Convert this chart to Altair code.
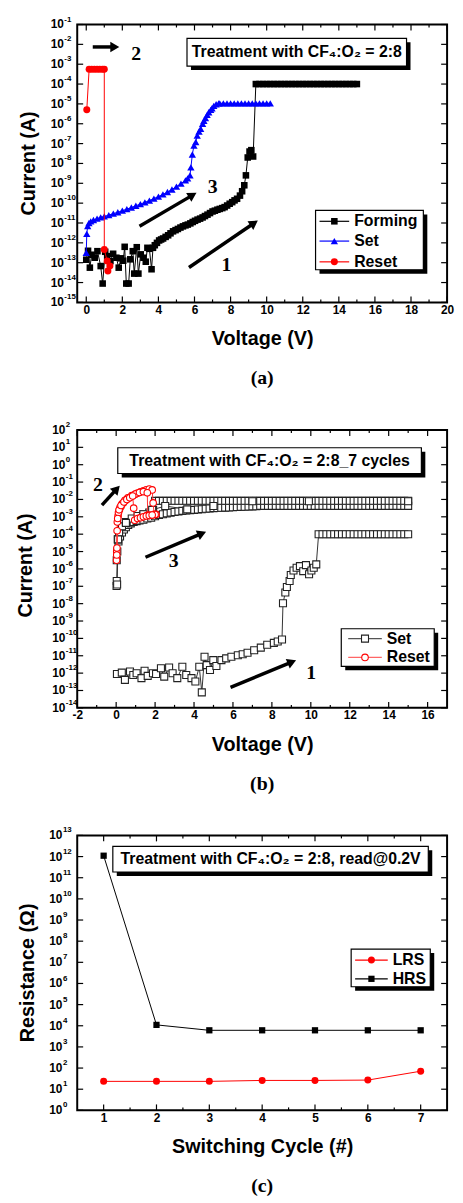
import math
import altair as alt
import pandas as pd

# ---------------- data ----------------
# measurement sweep voltages (V) used for the compliance plateaus
SWEEP_V = [0.0, 0.2, 0.4, 0.6, 0.8, 1.0, 1.2, 1.4, 1.6, 1.8, 2.0, 2.2, 2.4, 2.6, 2.8,
           3.0, 3.2, 3.4, 3.6, 3.8, 4.0, 4.2, 4.4, 4.6, 4.8, 5.0, 5.2, 5.4, 5.6, 5.8,
           6.0, 6.2, 6.4, 6.6, 6.8, 7.0, 7.2, 7.4, 7.6, 7.8, 8.0, 8.2, 8.4, 8.6, 8.8,
           9.0, 9.2, 9.4, 9.6, 9.8, 10.0, 10.2, 10.4, 10.6, 10.8, 11.0, 11.2, 11.4,
           11.6, 11.8, 12.0, 12.2, 12.4, 12.6, 12.8, 13.0, 13.2, 13.4, 13.6, 13.8,
           14.0, 14.2, 14.4, 14.6, 14.8, 15.0]

# Panel (a): log10 of current (A)
FORM_V = [0.00, 0.10, 0.20, 0.30, 0.47, 0.62, 0.80, 0.91, 1.05, 1.16, 1.34, 1.49, 1.67, 1.80,
          1.93, 2.05, 2.13, 2.22, 2.35, 2.44, 2.58, 2.66, 2.80, 2.89, 3.02, 3.17, 3.30, 3.39,
          3.50, 3.62, 3.70, 3.80, 3.92, 4.04, 4.15, 4.26, 4.40, 4.54, 4.67, 4.81, 4.95, 5.08,
          5.22, 5.36, 5.50, 5.63, 5.77, 5.90, 6.03, 6.17, 6.31, 6.45, 6.58, 6.72, 6.86, 7.00,
          7.13, 7.27, 7.40, 7.54, 7.67, 7.81, 7.95, 8.09, 8.22, 8.36, 8.52, 8.64, 8.76, 8.85,
          8.95, 9.05, 9.15, 9.25]
FORM_LOGI = [-12.85, -12.40, -13.25, -12.60, -12.75, -12.42, -13.17, -14.05, -12.45, -12.67,
             -12.92, -12.55, -12.75, -13.25, -12.78, -12.90, -12.20, -14.05, -14.05, -12.83,
             -12.42, -13.55, -12.22, -13.55, -12.58, -12.75, -12.95, -12.25, -12.30, -13.33,
             -12.25, -12.12, -12.00, -11.88, -11.83, -11.78, -11.70, -11.62, -11.52, -11.42,
             -11.36, -11.30, -11.23, -11.17, -11.12, -11.08, -11.02, -10.95, -10.89, -10.83,
             -10.78, -10.72, -10.65, -10.58, -10.50, -10.42, -10.38, -10.33, -10.29, -10.25,
             -10.20, -10.12, -10.03, -9.95, -9.86, -9.78, -9.62, -9.40, -9.10, -8.60,
             -7.70, -7.40, -7.33, -7.65]
FORM_CC_LOGI = -4.0          # forming compliance, 9.3 V .. 15 V
FORM_CC_RANGE = (9.3, 15.0)

SET_A_V = [0.00, 0.03, 0.08, 0.15, 0.25, 0.40, 0.60, 0.80, 1.00, 1.25, 1.50, 1.75, 2.00, 2.25,
           2.50, 2.75, 3.00, 3.25, 3.50, 3.75, 4.00, 4.25, 4.50, 4.75, 5.00, 5.25, 5.50, 5.62,
           5.75, 5.80, 5.88, 5.97, 6.07, 6.15, 6.25, 6.34, 6.45, 6.52, 6.61, 6.70, 6.79, 6.90,
           6.97, 7.07, 7.20, 7.34]
SET_A_LOGI = [-12.50, -11.55, -11.15, -11.00, -10.92, -10.85, -10.78, -10.72, -10.67, -10.60,
              -10.53, -10.46, -10.38, -10.30, -10.22, -10.13, -10.05, -9.96, -9.87, -9.77,
              -9.67, -9.56, -9.44, -9.31, -9.17, -9.02, -8.85, -8.75, -8.60, -8.20, -7.55,
              -7.10, -6.92, -6.60, -6.40, -6.25, -6.00, -5.85, -5.72, -5.55, -5.42, -5.30,
              -5.22, -5.10, -5.02, -4.97]
SET_A_CC_LOGI = -4.97
SET_A_CC_RANGE = (7.4, 10.2)

RESET_A_V = [0.03, 0.16, 0.30, 0.45, 0.60, 0.75, 0.90, 1.00, 1.00, 1.16, 1.31, 1.20]
RESET_A_LOGI = [-5.30, -3.25, -3.25, -3.25, -3.25, -3.25, -3.25, -3.25, -12.33, -12.92, -13.17, -13.42]

# Panel (b)
SET_B1_V = [0.04, 0.29, 0.45, 0.71, 0.88, 1.05, 1.30, 1.46, 1.62, 1.89, 2.05, 2.30, 2.47, 2.72,
            2.90, 3.14, 3.40, 3.60, 3.87, 4.07, 4.27, 4.40, 4.54, 4.65, 4.82, 4.99, 5.15, 5.41,
            5.65, 5.92, 6.25, 6.50, 6.75, 7.09, 7.43, 7.76, 8.10, 8.30, 8.52, 8.57, 8.69, 8.77,
            8.91, 8.97, 9.11, 9.27, 9.44, 9.61, 9.75, 9.91, 10.03, 10.15, 10.28]
SET_B1_LOGI = [-12.05, -11.97, -12.39, -11.91, -12.11, -12.01, -12.29, -11.86, -12.16, -12.01,
               -12.05, -11.72, -12.20, -11.68, -12.01, -12.29, -11.63, -12.11, -12.29, -12.48,
               -11.63, -13.11, -11.06, -11.54, -11.82, -11.25, -11.59, -11.25, -11.15, -11.06,
               -10.97, -10.91, -10.83, -10.68, -10.53, -10.37, -10.26, -10.18, -10.06, -7.98,
               -7.36, -7.04, -6.70, -6.35, -6.09, -5.93, -5.84, -6.13, -5.78, -6.31, -6.09,
               -5.93, -5.74]
SET_B1_CC_LOGI = -4.0
SET_B1_CC_RANGE = (10.4, 15.0)

SET_B2_V = [0.02, 0.03, 0.06, 0.12, 0.20, 0.30, 0.40, 0.50, 0.62, 0.75, 0.90, 1.05, 1.20, 1.40,
            1.60, 1.80, 2.00, 2.20, 2.40, 2.60, 2.80, 3.00, 3.20, 3.40, 3.60, 3.80, 4.00, 4.20,
            4.40, 4.60, 4.80, 5.00, 5.20, 5.40, 5.60, 5.80, 6.00, 6.20, 6.40, 6.60, 6.80, 7.00,
            7.20]
SET_B2_LOGI = [-6.98, -6.70, -5.00, -4.42, -4.13, -3.90, -3.73, -3.60, -3.47, -3.38, -3.30,
               -3.25, -3.21, -3.17, -3.10, -3.05, -2.97, -2.90, -2.85, -2.80, -2.76, -2.72,
               -2.69, -2.66, -2.64, -2.62, -2.60, -2.58, -2.56, -2.54, -2.52, -2.50, -2.49,
               -2.48, -2.47, -2.46, -2.45, -2.44, -2.43, -2.42, -2.41, -2.40, -2.39]
SET_B2_CC_LOGI = -2.37
SET_B2_CC_RANGE = (7.4, 15.0)

SET_B3_V = [0.03, 0.08, 0.15, 0.30, 0.50, 0.80, 1.10, 1.40, 1.70, 1.90, 2.00]
SET_B3_LOGI = [-5.50, -4.30, -3.90, -3.55, -3.30, -3.10, -2.95, -2.85, -2.75, -2.60, -2.08]
SET_B3_CC_LOGI = -2.08
SET_B3_CC_RANGE = (2.2, 15.0)

SET_B4_V = [0.05, 0.10, 0.50, 1.40, 1.85, 2.52, 3.65, 5.00, 7.00, 9.90, 15.00]
SET_B4_LOGI = [-6.90, -4.30, -3.35, -2.85, -2.60, -2.38, -2.57, -2.38, -2.10, -2.10, -2.10]

RESET_B1_V = [0.02, 0.03, 0.05, 0.10, 0.17, 0.25, 0.37, 0.50, 0.65, 0.80, 0.96, 1.10, 1.25,
              1.40, 1.55, 1.70, 1.85, 1.90, 1.95, 2.05]
RESET_B1_LOGI = [-5.50, -5.00, -3.80, -2.95, -2.60, -2.40, -2.20, -2.05, -1.92, -1.82, -1.72,
                 -1.64, -1.56, -1.50, -1.44, -1.40, -1.45, -2.20, -2.85, -2.86]
RESET_B2_V = [0.03, 0.06, 0.12, 0.20, 0.30, 0.45, 0.60, 0.80, 1.00, 1.20, 1.40, 1.60, 1.62,
              1.70, 1.85, 2.00]
RESET_B2_LOGI = [-5.20, -3.30, -2.75, -2.45, -2.25, -2.05, -1.90, -1.78, -1.68, -1.60, -1.55,
                 -1.62, -2.90, -2.93, -2.90, -2.87]
RESET_B3_V = [0.04, 0.08, 0.15, 0.25, 0.40, 0.55, 0.70, 0.85, 0.90, 0.95, 1.10, 1.25, 1.40,
              1.55, 1.70, 1.85]
RESET_B3_LOGI = [-4.80, -3.10, -2.60, -2.35, -2.15, -2.00, -1.90, -1.80, -2.50, -3.20, -3.10,
                 -3.05, -3.00, -2.95, -2.92, -2.90]

# Panel (c): resistance (Ohm)
CYCLES = [1, 2, 3, 4, 5, 6, 7]
HRS = [1.1e12, 1.1e4, 6.1e3, 6.1e3, 6.1e3, 6.1e3, 6.1e3]
LRS = [23.5, 23.5, 23.5, 26.0, 26.0, 27.0, 71.0]

# tick labels
XTICKS_A = [0, 2, 4, 6, 8, 10, 12, 14, 16, 18, 20]
XMINOR_A = [1, 3, 5, 7, 9, 11, 13, 15, 17, 19]
YEXP_A = [-1, -2, -3, -4, -5, -6, -7, -8, -9, -10, -11, -12, -13, -14, -15]
XTICKS_B = [-2, 0, 2, 4, 6, 8, 10, 12, 14, 16]
XMINOR_B = [-1, 1, 3, 5, 7, 9, 11, 13, 15]
YEXP_B = [2, 1, 0, -1, -2, -3, -4, -5, -6, -7, -8, -9, -10, -11, -12, -13, -14]
XTICKS_C = [1, 2, 3, 4, 5, 6, 7]
XMINOR_C = [1.5, 2.5, 3.5, 4.5, 5.5, 6.5]
YEXP_C = [13, 12, 11, 10, 9, 8, 7, 6, 5, 4, 3, 2, 1, 0]

# ---------------- styling / helpers ----------------
FONT = "Liberation Sans"
SERIF = "Liberation Serif"
W = 374
ONE = pd.DataFrame({"k": [0]})


def plateau(rng, logi):
    vs = [v for v in SWEEP_V if rng[0] <= v <= rng[1]]
    return vs, [logi] * len(vs)


def curve_df(parts):
    rows = []
    for cyc, (vs, ls) in enumerate(parts):
        for i, (v, l) in enumerate(zip(vs, ls)):
            rows.append({"V": v, "I": 10.0 ** l, "cyc": cyc, "ord": i})
    return pd.DataFrame(rows)


def series(df, xs, ys, xax, color, shape, size, open_marker=False, line_color=None,
           line_w=1.0, xf="V", yf="I"):
    enc = dict(x=alt.X(f"{xf}:Q", scale=xs, axis=xax),
               y=alt.Y(f"{yf}:Q", scale=ys, axis=None))
    line = alt.Chart(df).mark_line(color=line_color or color, strokeWidth=line_w).encode(
        detail="cyc:N", order="ord:Q", **enc)
    if open_marker:
        pt = alt.Chart(df).mark_point(shape=shape, size=size, filled=True, fill="white",
                                      stroke=color, strokeWidth=1.1, opacity=1)
    else:
        pt = alt.Chart(df).mark_point(shape=shape, size=size, filled=True, color=color,
                                      opacity=1, strokeWidth=0)
    return [line, pt.encode(**enc)]


def frame_ticks(xs, ys, H, xmaj, xmin, yexp, xax):
    dmaj = pd.DataFrame({"t": xmaj})
    dmin = pd.DataFrame({"t": xmin})
    dy = pd.DataFrame({"t": [10.0 ** e for e in yexp]})
    out = []
    for d, y0, y1 in ((dmaj, H - 6, H), (dmaj, 0, 6), (dmin, H - 3, H), (dmin, 0, 3)):
        out.append(alt.Chart(d).mark_rule(color="black", strokeWidth=1.2).encode(
            x=alt.X("t:Q", scale=xs, axis=xax), y=alt.value(y0), y2=alt.value(y1)))
    for x0, x1 in ((0, 6), (W - 6, W)):
        out.append(alt.Chart(dy).mark_rule(color="black", strokeWidth=1.2).encode(
            y=alt.Y("t:Q", scale=ys, axis=None), x=alt.value(x0), x2=alt.value(x1)))
    return out


def ylabels(ys, yexp, xr):
    d = pd.DataFrame({"t": [10.0 ** e for e in yexp], "b": ["10"] * len(yexp),
                      "e": [str(e) for e in yexp]})
    base = alt.Chart(d).mark_text(align="right", baseline="middle", font=FONT,
                                  fontWeight="bold", fontSize=12, color="black").encode(
        y=alt.Y("t:Q", scale=ys, axis=None), x=alt.value(xr), text="b:N")
    ex = alt.Chart(d).mark_text(align="left", baseline="middle", font=FONT,
                                fontWeight="bold", fontSize=8, dy=-5, color="black").encode(
        y=alt.Y("t:Q", scale=ys, axis=None), x=alt.value(xr + 0.5), text="e:N")
    return [base, ex]


def text(x, y, s, size=16, font=FONT, align="center", angle=0):
    kw = dict(align=align, baseline="middle", font=font, fontWeight="bold",
              fontSize=size, color="black")
    if angle:
        kw["angle"] = angle
    return alt.Chart(ONE).mark_text(**kw).encode(x=alt.value(x), y=alt.value(y),
                                                 text=alt.value(s))


def box(x0, y0, x1, y1):
    sh = alt.Chart(ONE).mark_rect(fill="black").encode(
        x=alt.value(x0 + 4), x2=alt.value(x1 + 4), y=alt.value(y0 + 4), y2=alt.value(y1 + 4))
    bx = alt.Chart(ONE).mark_rect(fill="white", stroke="black", strokeWidth=1.2).encode(
        x=alt.value(x0), x2=alt.value(x1), y=alt.value(y0), y2=alt.value(y1))
    return [sh, bx]


def legend(bx, rows, lx0, lx1, tx):
    out = box(*bx)
    for lab, y, color, shape, size, open_m, lcol in rows:
        out.append(alt.Chart(ONE).mark_rule(color=lcol, strokeWidth=1.2).encode(
            x=alt.value(lx0), x2=alt.value(lx1), y=alt.value(y)))
        if open_m:
            m = alt.Chart(ONE).mark_point(shape=shape, size=size, filled=True, fill="white",
                                          stroke=color, strokeWidth=1.1, opacity=1)
        else:
            m = alt.Chart(ONE).mark_point(shape=shape, size=size, filled=True, color=color,
                                          opacity=1, strokeWidth=0)
        out.append(m.encode(x=alt.value((lx0 + lx1) / 2), y=alt.value(y)))
        out.append(text(tx, y, lab, size=16, align="left"))
    return out


def arrow(x0, y0, x1, y1, label, lx, ly):
    L = math.hypot(x1 - x0, y1 - y0)
    ux, uy = (x1 - x0) / L, (y1 - y0) / L
    hx, hy = x1 - ux * 5, y1 - uy * 5
    ang = math.degrees(math.atan2(x1 - x0, -(y1 - y0))) % 360
    shaft = alt.Chart(ONE).mark_rule(color="black", strokeWidth=3.5).encode(
        x=alt.value(x0), y=alt.value(y0), x2=alt.value(hx - ux * 3), y2=alt.value(hy - uy * 3))
    head = alt.Chart(ONE).mark_point(shape="triangle-up", filled=True, color="black",
                                     opacity=1, size=110, angle=ang, strokeWidth=0).encode(
        x=alt.value(hx), y=alt.value(hy))
    return [shaft, head, text(lx, ly, label, size=20, font=SERIF)]


def xaxis(values, title):
    return alt.Axis(values=values, title=title, labelFlush=False, labelOverlap=False,
                    labelPadding=2, titlePadding=14, ticks=False, domain=False, grid=False,
                    labelExpr="replace(datum.label, '\u2212', '-')")


TITLE = "Treatment with CF\u2084:O\u2082 = 2:8"

# ---------------- panel (a) ----------------
HA = 281
xs_a = alt.Scale(domain=[-0.5, 20], nice=False, zero=False)
ys_a = alt.Scale(type="log", domain=[1e-15, 1e-1], nice=False)
xa = xaxis(XTICKS_A, "Voltage (V)")
fv, fl = plateau(FORM_CC_RANGE, FORM_CC_LOGI)
sv, sl = plateau(SET_A_CC_RANGE, SET_A_CC_LOGI)
df_form = curve_df([(FORM_V + fv, FORM_LOGI + fl)])
df_seta = curve_df([(SET_A_V + sv, SET_A_LOGI + sl)])
df_reseta = curve_df([(RESET_A_V, RESET_A_LOGI)])

layers_a = []
layers_a += frame_ticks(xs_a, ys_a, HA, XTICKS_A, XMINOR_A, YEXP_A, xa)
layers_a += series(df_form, xs_a, ys_a, xa, "black", "square", 44)
layers_a += series(df_seta, xs_a, ys_a, xa, "#0000ff", "triangle-up", 55)
layers_a += series(df_reseta, xs_a, ys_a, xa, "#ff0000", "circle", 50)
layers_a += ylabels(ys_a, YEXP_A, -13.5)
layers_a.append(text(-49, HA / 2, "Current (A)", size=20, angle=270))
layers_a += box(111, 14, 333, 42)
layers_a.append(text(222, 28, TITLE, size=16))
layers_a += legend((241, 188, 350, 248),
                   [("Forming", 199, "black", "square", 44, False, "black"),
                    ("Set", 219, "#0000ff", "triangle-up", 55, False, "#0000ff"),
                    ("Reset", 240, "#ff0000", "circle", 50, False, "#ff0000")],
                   245, 275, 280)
layers_a += arrow(15.7, 22.7, 43, 22.7, "2", 59.5, 30)
layers_a += arrow(63, 204, 121, 170, "3", 137, 164)
layers_a += arrow(113, 245.7, 183, 198, "1", 151, 243)
layers_a.append(text(W / 2, HA + 77, "(a)", size=20, font=SERIF))
pa = alt.layer(*layers_a).properties(width=W, height=HA)

# ---------------- panel (b) ----------------
HB = 281
xs_b = alt.Scale(domain=[-2, 17], nice=False, zero=False)
ys_b = alt.Scale(type="log", domain=[1e-14, 1e2], nice=False)
xb = xaxis(XTICKS_B, "Voltage (V)")
p1 = plateau(SET_B1_CC_RANGE, SET_B1_CC_LOGI)
p2 = plateau(SET_B2_CC_RANGE, SET_B2_CC_LOGI)
p3 = plateau(SET_B3_CC_RANGE, SET_B3_CC_LOGI)
df_setb = curve_df([(SET_B1_V + p1[0], SET_B1_LOGI + p1[1]),
                    (SET_B2_V + p2[0], SET_B2_LOGI + p2[1]),
                    (SET_B3_V + p3[0], SET_B3_LOGI + p3[1]),
                    (SET_B4_V, SET_B4_LOGI)])
df_resetb = curve_df([(RESET_B1_V, RESET_B1_LOGI), (RESET_B2_V, RESET_B2_LOGI),
                      (RESET_B3_V, RESET_B3_LOGI)])
layers_b = []
layers_b += frame_ticks(xs_b, ys_b, HB, XTICKS_B, XMINOR_B, YEXP_B, xb)
layers_b += series(df_setb, xs_b, ys_b, xb, "#222222", "square", 50, open_marker=True,
                   line_color="#333333")
layers_b += series(df_resetb, xs_b, ys_b, xb, "#ff0000", "circle", 44, open_marker=True,
                   line_color="#ff3333")
layers_b += ylabels(ys_b, YEXP_B, -12)
layers_b.append(text(-51.5, 137, "Current (A)", size=20, angle=270))
layers_b += box(41, 18, 348, 44)
layers_b.append(text(194.5, 31, TITLE + "_7 cycles", size=16))
layers_b += legend((267, 201, 361, 239),
                   [("Set", 211, "#222222", "square", 50, True, "#555555"),
                    ("Reset", 230, "#ff0000", "circle", 44, True, "#ff6666")],
                   274, 308, 313)
layers_b += arrow(25, 76, 43.3, 56, "2", 21, 55.5)
layers_b += arrow(69, 128.7, 130.7, 102.7, "3", 97.5, 132.7)
layers_b += arrow(155, 260.3, 221.7, 232.7, "1", 236.7, 246)
layers_b.append(text(W / 2, HB + 77, "(b)", size=20, font=SERIF))
pb = alt.layer(*layers_b).properties(width=W, height=HB)

# ---------------- panel (c) ----------------
HC = 278
xs_c = alt.Scale(domain=[0.5, 7.5], nice=False, zero=False)
ys_c = alt.Scale(type="log", domain=[1e0, 1e13], nice=False)
xc = xaxis(XTICKS_C, "Switching Cycle (#)")
df_hrs = pd.DataFrame({"C": CYCLES, "R": HRS, "cyc": 0, "ord": list(range(len(CYCLES)))})
df_lrs = pd.DataFrame({"C": CYCLES, "R": LRS, "cyc": 0, "ord": list(range(len(CYCLES)))})
layers_c = []
layers_c += frame_ticks(xs_c, ys_c, HC, XTICKS_C, XMINOR_C, YEXP_C, xc)
layers_c += series(df_hrs, xs_c, ys_c, xc, "black", "square", 40, xf="C", yf="R")
layers_c += series(df_lrs, xs_c, ys_c, xc, "#ff0000", "circle", 50, xf="C", yf="R")
layers_c += ylabels(ys_c, YEXP_C, -15)
layers_c.append(text(-50, 139, "Resistance (\u03a9)", size=20, angle=270))
layers_c += box(36, 11, 355, 37)
layers_c.append(text(195.5, 24, TITLE + ", read@0.2V", size=16))
layers_c += legend((277, 115, 357, 153),
                   [("LRS", 126, "#ff0000", "circle", 50, False, "#ff0000"),
                    ("HRS", 145, "black", "square", 40, False, "black")],
                   281, 314, 319)
layers_c.append(text(W / 2, HC + 77, "(c)", size=20, font=SERIF))
pc = alt.layer(*layers_c).properties(width=W, height=HC)

chart = (
    alt.vconcat(pa, pb, pc, spacing=31)
    .properties(padding={"left": 7, "top": 0, "right": 0, "bottom": 0})
    .configure_view(stroke="black", strokeWidth=2)
    .configure_axis(labelFont=FONT, labelFontWeight="bold", labelFontSize=12,
                    labelColor="black", titleFont=FONT, titleFontWeight="bold",
                    titleFontSize=20, titleColor="black", grid=False, ticks=False,
                    domain=False)
)
chart.save("out.html", embed_options={"renderer": "svg", "actions": False})
